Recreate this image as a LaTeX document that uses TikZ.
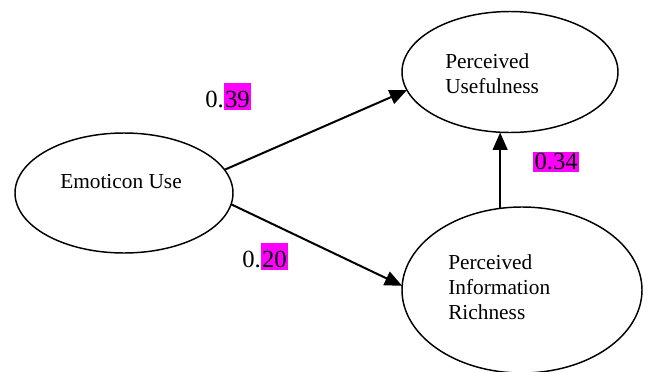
\documentclass[tikz,border=0pt]{standalone}
\usepackage{fontspec}
\setmainfont{Liberation Serif}
\newfontfamily\timesfont{Liberation Serif}
\usetikzlibrary{shapes.geometric,arrows.meta}
\definecolor{hlmagenta}{RGB}{255,0,255}
% magenta highlight of the path coefficients
\newcommand{\hl}[2][20pt]{{\setlength{\fboxsep}{0pt}\colorbox{hlmagenta}{\rule[-2pt]{0pt}{#1}\kern1pt#2\kern1pt}}}
\begin{document}
\begin{tikzpicture}[x=0.75pt, y=-0.75pt,
    construct/.style={draw, ellipse, line width=1.1pt, inner sep=0pt, outer sep=0pt},
    caption/.style={font=\timesfont\fontsize{16}{18.75}\selectfont, align=left, inner sep=0pt},
    weight/.style={font=\timesfont\fontsize{18.5}{20}\selectfont, inner sep=0pt, anchor=base west},
    path/.style={line width=1.5pt, -{Triangle[length=13pt,width=11pt]}}]
    \useasboundingbox (0,0) rectangle (651,372);

    % constructs
    \node[construct, minimum width=163.5pt, minimum height=90pt] (eu) at (124,193) {};
    \node[construct, minimum width=162pt, minimum height=90.75pt] (pu) at (510,72) {};
    \node[construct, minimum width=180pt, minimum height=124.5pt] (pir) at (522,290) {};

    % their names
    \node[caption, anchor=base west] (eu-t) at (60,188) {Emoticon Use};
    \node[caption, anchor=north west] (pu-t) at (445,53) {Perceived\\Usefulness};
    \node[caption, anchor=north west] (pir-t) at (448,254) {Perceived\\Information\\Richness};

    % paths
    \draw[path] (eu.13) -- (pu.190);
    \draw[path] (eu.-6) -- (pir.178);
    \draw[path] (pir.105) -- (pir.105 |- pu.south);

    % coefficients
    \node[weight] (w-pu) at (205,107) {0.\hl{39}};
    \node[weight] (w-pir) at (242,267) {0.\hl{20}};
    \node[weight] (w-pir-pu) at (533,169) {\hl[15pt]{0.34}};
\end{tikzpicture}
\end{document}
